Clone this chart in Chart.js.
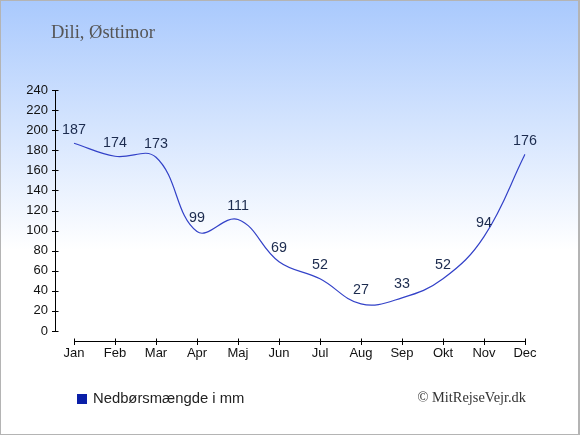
<!DOCTYPE html>
<html>
<head>
<meta charset="utf-8">
<script src="https://cdn.jsdelivr.net/npm/chart.js@4/dist/chart.umd.min.js"></script>
<style>
  html, body { margin: 0; padding: 0; background: #fff; }
  #wrap { width: 580px; height: 435px; }
</style>
</head>
<body>
<div id="wrap"><canvas id="rainChart" width="580" height="435"></canvas></div>
<script>
// ======= Data =======
const months = ['Jan', 'Feb', 'Mar', 'Apr', 'Maj', 'Jun', 'Jul', 'Aug', 'Sep', 'Okt', 'Nov', 'Dec'];
const rainfall = [187, 174, 173, 99, 111, 69, 52, 27, 33, 52, 94, 176];
const yTicks = [0, 20, 40, 60, 80, 100, 120, 140, 160, 180, 200, 220, 240];

const titleText = 'Dili, Østtimor';
const legendText = 'Nedbørsmængde i mm';
const copyText = '© MitRejseVejr.dk';

// ======= Background, border, title, legend =======
const backdrop = {
    id: 'backdrop',
    beforeDraw(chart) {
        const ctx = chart.ctx;
        const g = ctx.createLinearGradient(0, 0, 0, 250);
        g.addColorStop(0, '#a9c9fd');
        g.addColorStop(1, '#ffffff');
        ctx.save();
        ctx.fillStyle = '#ffffff';
        ctx.fillRect(0, 0, chart.width, chart.height);
        ctx.fillStyle = g;
        ctx.fillRect(0, 0, chart.width, 250);
        ctx.restore();
    },
    afterDraw(chart) {
        const ctx = chart.ctx;
        ctx.save();
        // frame
        ctx.strokeStyle = '#b4b4b4';
        ctx.lineWidth = 1;
        ctx.strokeRect(0.5, 0.5, chart.width - 1, chart.height - 1);
        ctx.beginPath();
        ctx.moveTo(chart.width - 1.5, 0);
        ctx.lineTo(chart.width - 1.5, chart.height);
        ctx.stroke();

        // title
        ctx.fillStyle = '#555555';
        ctx.font = '18.5px "Liberation Serif", serif';
        ctx.textAlign = 'left';
        ctx.textBaseline = 'alphabetic';
        ctx.fillText(titleText, 51, 38);

        // legend
        ctx.fillStyle = '#0a1fa8';
        ctx.fillRect(77, 394, 10, 10);
        ctx.fillStyle = '#222222';
        ctx.font = '14.8px "Liberation Sans", Arial, sans-serif';
        ctx.fillText(legendText, 93, 403);

        // copyright
        ctx.fillStyle = '#333333';
        ctx.font = '14.4px "Liberation Serif", serif';
        ctx.textAlign = 'right';
        ctx.fillText(copyText, 526, 402);
        ctx.restore();
    }
};

// ======= Axes with crossing ticks =======
const axesLines = {
    id: 'axesLines',
    afterDraw(chart) {
        const ctx = chart.ctx;
        const x = chart.scales.x;
        const y = chart.scales.y;
        const axisX = 55.5;
        const axisY = 341.5;
        ctx.save();
        ctx.strokeStyle = '#000000';
        ctx.lineWidth = 1;
        ctx.beginPath();
        ctx.moveTo(axisX, y.getPixelForValue(240));
        ctx.lineTo(axisX, y.getPixelForValue(0) + 1);
        yTicks.forEach(v => {
            const py = Math.round(y.getPixelForValue(v)) + 0.5;
            ctx.moveTo(axisX - 3.5, py);
            ctx.lineTo(axisX + 3, py);
        });
        ctx.moveTo(x.getPixelForValue(0), axisY);
        ctx.lineTo(x.getPixelForValue(months.length - 1) + 1, axisY);
        months.forEach((m, i) => {
            const px = Math.round(x.getPixelForValue(i)) + 0.5;
            ctx.moveTo(px, axisY - 3);
            ctx.lineTo(px, axisY + 3.5);
        });
        ctx.stroke();
        ctx.restore();
    }
};

// ======= Value labels =======
const valueLabels = {
    id: 'valueLabels',
    afterDatasetsDraw(chart) {
        const ctx = chart.ctx;
        const meta = chart.getDatasetMeta(0);
        ctx.save();
        ctx.fillStyle = '#1c2b4e';
        ctx.font = '14.3px "Liberation Sans", Arial, sans-serif';
        ctx.textAlign = 'center';
        ctx.textBaseline = 'middle';
        meta.data.forEach((pt, i) => {
            ctx.fillText(String(rainfall[i]), pt.x, pt.y - 13.5);
        });
        ctx.restore();
    }
};

new Chart(document.getElementById('rainChart'), {
    type: 'line',
    data: {
        labels: months,
        datasets: [{
            label: legendText,
            data: rainfall,
            borderColor: '#3342c8',
            borderWidth: 1.2,
            pointRadius: 0,
            tension: 0.4,
            fill: false
        }]
    },
    options: {
        responsive: false,
        animation: false,
        layout: { padding: { left: 0, right: 55, top: 90, bottom: 64 } },
        plugins: {
            legend: { display: false },
            tooltip: { enabled: false },
            title: { display: false }
        },
        scales: {
            x: {
                offset: false,
                grid: { display: false, drawTicks: false },
                border: { display: false },
                ticks: {
                    color: '#111111',
                    font: { family: '"Liberation Sans", Arial, sans-serif', size: 13 },
                    padding: 15,
                    maxRotation: 0,
                    autoSkip: false
                },
                afterFit: s => { s.height = 40; }
            },
            y: {
                min: 0,
                max: 240,
                grid: { display: false, drawTicks: false },
                border: { display: false },
                ticks: {
                    stepSize: 20,
                    color: '#111111',
                    font: { family: '"Liberation Sans", Arial, sans-serif', size: 13 },
                    padding: 26
                },
                afterFit: s => { s.width = 74; }
            }
        }
    },
    plugins: [backdrop, axesLines, valueLabels]
});
</script>
</body>
</html>
